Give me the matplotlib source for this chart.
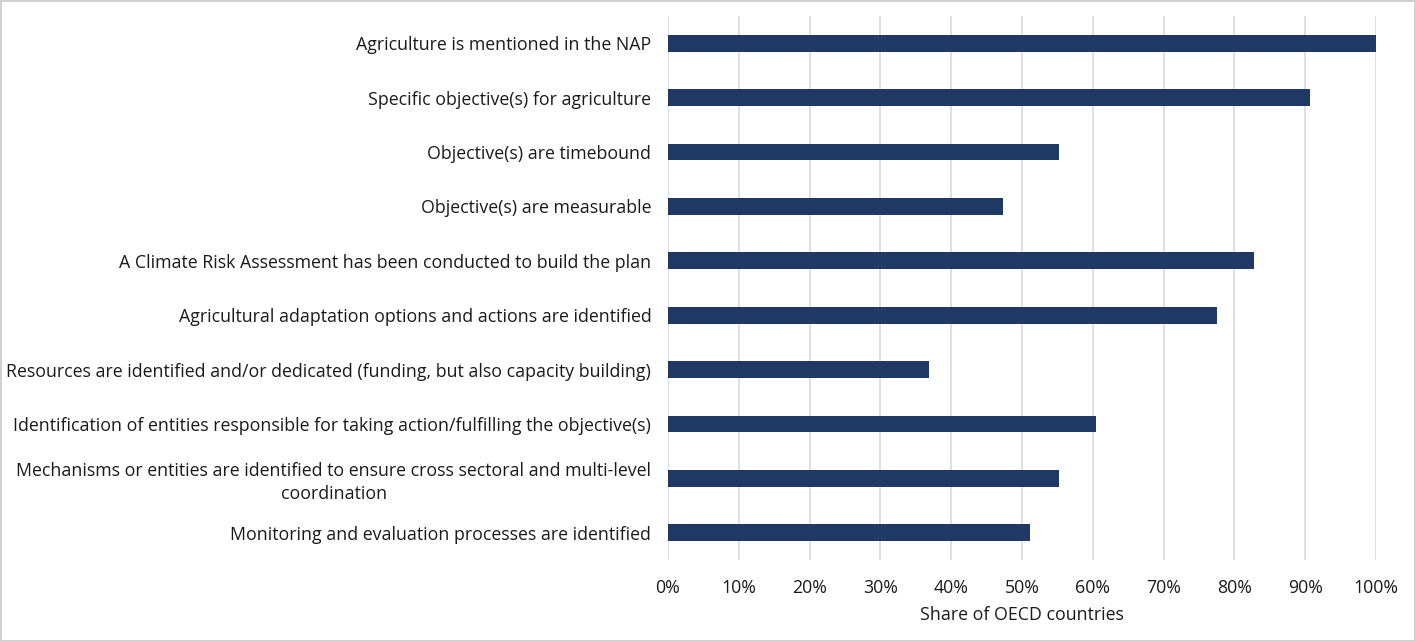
"""Horizontal bar chart: agriculture in National Adaptation Plans, share of OECD countries."""
import matplotlib
matplotlib.use("Agg")
import matplotlib.pyplot as plt
from matplotlib.ticker import PercentFormatter

plt.rcParams['font.family'] = ['Open Sans', 'DejaVu Sans']

labels = [
    "Agriculture is mentioned in the NAP",
    "Specific objective(s) for agriculture",
    "Objective(s) are timebound",
    "Objective(s) are measurable",
    "A Climate Risk Assessment has been conducted to build the plan",
    "Agricultural adaptation options and actions are identified",
    "Resources are identified and/or dedicated (funding, but also capacity building)",
    "Identification of entities responsible for taking action/fulfilling the objective(s)",
    "Mechanisms or entities are identified to ensure cross sectoral and multi-level\ncoordination",
    "Monitoring and evaluation processes are identified",
]
shares = [1.00, 0.907, 0.552, 0.473, 0.828, 0.775, 0.369, 0.605, 0.552, 0.511]

BAR_COLOR = "#203864"
TEXT_COLOR = "#1a1a1a"
FS = 12.8

fig = plt.figure(figsize=(14.15, 6.41), dpi=100)
fig.patch.set_edgecolor("#D0D0D0")
fig.patch.set_linewidth(2)
ax = fig.add_axes([668 / 1415, 1 - 560 / 641, 708 / 1415, 544 / 641])

y = list(range(len(labels)))
ax.barh(y, shares, height=0.31, color=BAR_COLOR, zorder=3)
ax.set_ylim(len(labels) - 0.5, -0.5)
ax.set_xlim(0, 1)
ax.set_yticks(y)
ax.set_yticklabels(labels, fontsize=FS, color=TEXT_COLOR,
                   multialignment="center", linespacing=1.3)
ax.set_xticks([i / 10 for i in range(11)])
ax.xaxis.set_major_formatter(PercentFormatter(1.0, decimals=0))
ax.tick_params(axis="x", labelsize=FS, colors=TEXT_COLOR, length=0, pad=14)
ax.tick_params(axis="y", length=0, pad=12)
ax.grid(axis="x", color="#D9D9D9", linewidth=1.2, zorder=0)
for s in ax.spines.values():
    s.set_visible(False)
ax.set_xlabel("Share of OECD countries", fontsize=FS, color=TEXT_COLOR, labelpad=6)

fig.savefig("out.png", dpi=100)
